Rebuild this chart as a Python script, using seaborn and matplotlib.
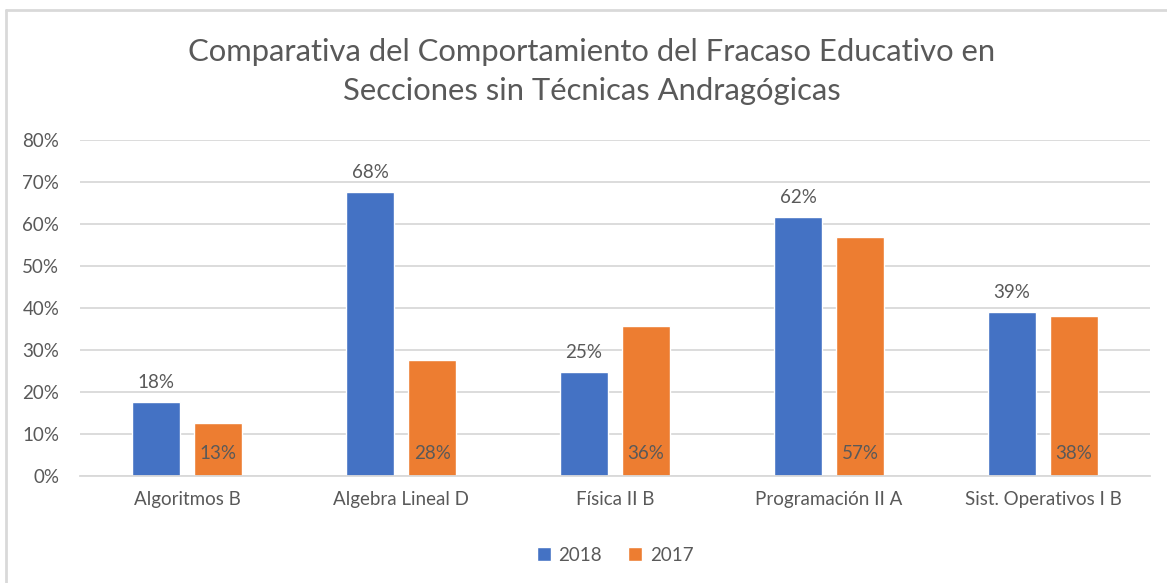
import pandas as pd
import seaborn as sns
import matplotlib.pyplot as plt
from matplotlib.lines import Line2D

# data
materias = ["Algoritmos B", "Algebra Lineal D", "Física II B",
            "Programación II A", "Sist. Operativos I B"]
fracaso_2018 = [0.176, 0.676, 0.248, 0.616, 0.391]
fracaso_2017 = [0.126, 0.276, 0.358, 0.570, 0.380]
years = ["2018", "2017"]
title = "Comparativa del Comportamiento del Fracaso Educativo en\nSecciones sin Técnicas Andragógicas"

df = pd.DataFrame({
    "Materia": materias * 2,
    "Año": [years[0]] * len(materias) + [years[1]] * len(materias),
    "Fracaso": fracaso_2018 + fracaso_2017,
})

sns.set_theme(style="white")
plt.rcParams["font.family"] = ["Lato", "DejaVu Sans"]
txt = "#595959"
grid = "#D9D9D9"
fs = 13.5

fig = plt.figure(figsize=(11.67, 5.83), dpi=100)
ax = fig.add_axes([0.0686, 0.1835, 0.9168, 0.5764])

sns.barplot(data=df, x="Materia", y="Fracaso", hue="Año", hue_order=years,
            palette=["#4472C4", "#ED7D31"], width=0.58, gap=0.23,
            saturation=1, ax=ax)

ax.set_ylim(0, 0.8)
ax.set_xlim(-0.5, len(materias) - 0.5)
ax.set_yticks([i / 10 for i in range(9)])
ax.set_yticklabels([f"{i * 10}%" for i in range(9)])
ax.yaxis.grid(True, color=grid, linewidth=1.3)
ax.set_axisbelow(True)
for s in ["top", "right", "left"]:
    ax.spines[s].set_visible(False)
ax.spines["bottom"].set_color(grid)
ax.spines["bottom"].set_linewidth(1.3)
ax.tick_params(axis="both", length=0, labelsize=fs, colors=txt)
ax.tick_params(axis="x", pad=11)
ax.tick_params(axis="y", pad=15)
ax.set_xlabel("")
ax.set_ylabel("")

# labels: 2018 above the bars, 2017 inside at the base
ax.bar_label(ax.containers[0], labels=[f"{v:.0%}" for v in fracaso_2018],
             padding=8, fontsize=fs, color=txt)
for bar, v in zip(ax.containers[1], fracaso_2017):
    ax.annotate(f"{v:.0%}", (bar.get_x() + bar.get_width() / 2, 0),
                xytext=(0, 10), textcoords="offset points",
                ha="center", va="bottom", fontsize=fs, color=txt)

leg = ax.legend(loc="upper center", bbox_to_anchor=(0.5, -0.16), ncol=2,
                frameon=False, fontsize=fs, handlelength=0.75,
                handleheight=0.75, handletextpad=0.4, columnspacing=1.4)
for t in leg.get_texts():
    t.set_color(txt)

fig.text(0.507, 0.935, title, ha="center", va="top", fontsize=22.3,
         color=txt, linespacing=1.5)

# chart frame as seen in the spreadsheet
fig.add_artist(Line2D([6 / 1167, 1], [1 - 10 / 583] * 2, color=grid, lw=2))
fig.add_artist(Line2D([6 / 1167] * 2, [0, 1 - 10 / 583], color=grid, lw=2))

fig.savefig("out.png", dpi=100)
